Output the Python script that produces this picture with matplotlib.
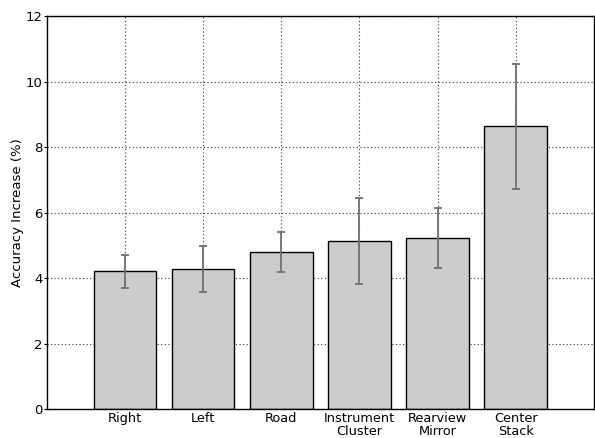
import matplotlib
matplotlib.use("Agg")
import matplotlib.pyplot as plt
import numpy as np

# accuracy gain per gaze region, with lower/upper bounds of the error bars
regions = ["Right", "Left", "Road", "Instrument\nCluster", "Rearview\nMirror", "Center\nStack"]
means = [4.22, 4.28, 4.79, 5.14, 5.22, 8.63]
lower = [3.70, 3.57, 4.17, 3.83, 4.31, 6.71]
upper = [4.70, 4.98, 5.40, 6.44, 6.13, 10.53]

means = np.array(means)
yerr = np.vstack([means - np.array(lower), np.array(upper) - means])
x = np.arange(len(regions))

fig = plt.figure(figsize=(5.95, 4.38), dpi=100)
ax = fig.add_axes([0.079, 0.066, 0.919, 0.8975])

ax.bar(x, means, width=0.8, color="#cccccc", edgecolor="black", linewidth=1.0, zorder=2)
ax.errorbar(x, means, yerr=yerr, fmt="none", ecolor="#707070", elinewidth=1.3,
            capsize=3, capthick=1.3, zorder=3)

ax.set_xlim(-1, 6)
ax.set_ylim(0, 12)
ax.set_yticks(range(0, 13, 2))
ax.set_xticks(x)
ax.set_xticklabels(regions, fontsize=9.3, linespacing=1.05)
ax.tick_params(axis="y", direction="out", length=2, pad=1, labelsize=9.5)
ax.tick_params(axis="x", length=0, pad=2)
ax.set_ylabel("Accuracy Increase (%)", fontsize=9.5, labelpad=1.5)

ax.grid(True, color="#333333", linestyle=(0, (1, 2.2)), linewidth=0.8, zorder=4)
for s in ax.spines.values():
    s.set_linewidth(1.0)

fig.savefig("out.png", dpi=100)
